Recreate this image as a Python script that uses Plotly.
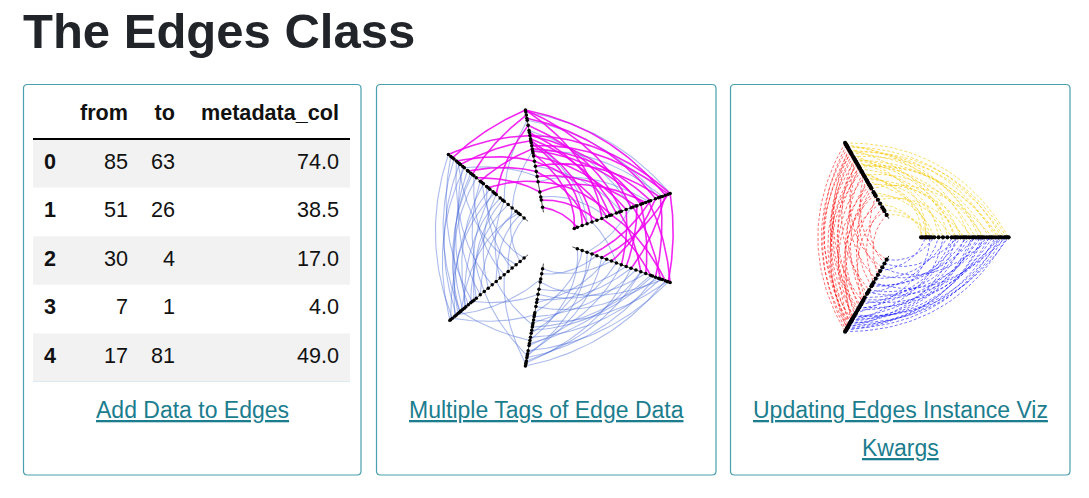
import numpy as np
import plotly.graph_objects as go

W, H = 1089, 498
OFF = 8  # page body margin of the browser
FW, FH = W - OFF, H - OFF

# ---------------- data ----------------
TITLE = "The Edges Class"
TABLE_HEADER = ["", "from", "to", "metadata_col"]
ROW_INDEX = [0, 1, 2, 3, 4]
COL_FROM = [85, 51, 30, 7, 17]
COL_TO = [63, 26, 4, 1, 81]
COL_META = [74.0, 38.5, 17.0, 4.0, 49.0]
LINK_1 = "Add Data to Edges"
LINK_2 = "Multiple Tags of Edge Data"
LINK_3 = ["Updating Edges Instance Viz", "Kwargs"]

# hive plot 1 (three groups, each with a repeat axis)
H1_AXIS_ANGLES = {"A": 100, "B": 140, "C": 20, "D": -20, "E": 220, "F": 260}

mag_AC_a = [1.0, 1.0, 1.0, 0.92, 0.75, 0.75, 0.72, 0.70, 0.68, 0.62, 0.55, 0.5, 0.45, 0.4, 0.35, 0.3, 0.2, 0.12, 0.05, 0.85, 0.65, 0.58, 0.78, 0.6]
mag_AC_c = [0.95, 0.6, 0.3, 0.85, 1.0, 0.7, 0.45, 0.2, 0.1, 0.8, 0.55, 0.35, 0.9, 0.15, 0.65, 0.4, 0.75, 0.25, 0.05, 0.5, 0.98, 0.02, 0.38, 0.72]
blue_AC_a = [0.98, 0.9, 0.8, 0.6, 0.45, 0.3, 0.15, 0.7]
blue_AC_c = [1.0, 0.88, 0.6, 0.92, 0.5, 0.78, 0.35, 0.15]

mag_CD_c = [1.0, 0.95, 0.9, 0.85, 0.78, 0.7, 0.62, 0.55, 0.48, 0.4, 0.98, 0.8, 0.66, 0.3]
mag_CD_d = [0.98, 0.6, 0.85, 0.4, 1.0, 0.75, 0.9, 0.5, 0.7, 0.95, 0.3, 0.2, 0.55, 0.8]
blue_CD_c = [0.6, 0.2]
blue_CD_d = [0.15, 0.45]

mag_AB_a = [1.0, 0.95, 0.75, 0.7, 0.62, 0.5, 0.4, 0.3, 0.85, 0.2]
mag_AB_b = [0.95, 0.7, 1.0, 0.85, 0.6, 0.9, 0.75, 0.5, 0.4, 0.65]
blue_AB_a = [0.9, 0.6, 0.35]
blue_AB_b = [0.3, 0.2, 0.8]

blue_BE_b = [1.0, 0.97, 0.93, 0.9, 0.86, 0.82, 0.8, 0.76, 0.72, 0.68, 0.65, 0.6, 0.56, 0.52, 0.48, 0.44, 0.4, 0.35, 0.3, 0.25, 0.2, 0.15, 0.1, 0.05, 0.88, 0.7, 0.58, 0.42, 0.32, 0.12]
blue_BE_e = [0.95, 0.7, 0.85, 0.45, 0.9, 0.6, 0.98, 0.75, 0.82, 0.3, 0.88, 0.55, 0.78, 0.2, 0.92, 0.65, 0.5, 0.8, 0.35, 0.72, 0.1, 0.6, 0.4, 0.25, 0.15, 0.86, 0.05, 0.97, 0.68, 0.84]

blue_EF_e = [0.95, 0.85, 0.7, 0.55, 0.4, 0.9, 0.3]
blue_EF_f = [0.5, 0.75, 0.3, 0.9, 0.6, 0.15, 0.98]

blue_FD_f = [1.0, 0.97, 0.92, 0.88, 0.85, 0.8, 0.78, 0.72, 0.68, 0.62, 0.58, 0.52, 0.48, 0.42, 0.38, 0.3, 0.25, 0.18, 0.1, 0.05, 0.9, 0.75, 0.55, 0.35, 0.95, 0.65]
blue_FD_d = [0.95, 0.6, 0.85, 0.3, 0.98, 0.5, 0.7, 0.9, 0.2, 0.8, 0.45, 0.65, 0.1, 0.88, 0.35, 0.75, 0.55, 0.92, 0.25, 0.4, 0.15, 0.05, 0.97, 0.6, 0.7, 0.82]

# hive plot 2 (three axes)
H2_AXIS_ANGLES = {"P": 120, "Q": 0, "R": 240}

yellow_p = [1.0, 0.98, 0.95, 0.92, 0.9, 0.87, 0.85, 0.82, 0.8, 0.77, 0.75, 0.72, 0.7, 0.66, 0.62, 0.58, 0.55, 0.5, 0.45, 0.4, 0.35, 0.3, 0.25, 0.2, 0.12, 0.05, 0.96, 0.88, 0.78, 0.68, 0.6, 0.52]
yellow_q = [1.0, 0.55, 0.92, 0.3, 0.85, 0.7, 0.05, 0.95, 0.45, 0.78, 0.2, 0.62, 0.88, 0.4, 0.0, 0.72, 0.25, 0.1, 0.58, 0.82, 0.15, 0.35, 0.5, 0.02, 0.08, 0.12, 0.66, 0.98, 0.38, 0.9, 0.06, 0.48]

red_p = [1.0, 0.97, 0.94, 0.92, 0.9, 0.87, 0.85, 0.82, 0.8, 0.77, 0.74, 0.72, 0.7, 0.66, 0.63, 0.6, 0.56, 0.52, 0.48, 0.44, 0.4, 0.35, 0.3, 0.25, 0.2, 0.15, 0.1, 0.05, 0.88, 0.78, 0.68, 0.58, 0.42, 0.32]
red_r = [1.0, 0.85, 0.95, 0.6, 0.9, 0.98, 0.7, 0.8, 0.45, 0.92, 0.65, 0.88, 0.3, 0.75, 0.96, 0.5, 0.82, 0.2, 0.68, 0.9, 0.4, 0.78, 0.1, 0.55, 0.86, 0.35, 0.62, 0.25, 0.72, 0.15, 0.94, 0.05, 0.58, 0.84]

blue_r = [1.0, 0.98, 0.96, 0.94, 0.92, 0.9, 0.88, 0.86, 0.84, 0.82, 0.8, 0.76, 0.72, 0.68, 0.64, 0.6, 0.55, 0.5, 0.45, 0.4, 0.35, 0.3, 0.25, 0.2, 0.15, 0.1, 0.05, 0.95, 0.87, 0.78, 0.7, 0.58, 0.48, 0.38]
blue_q = [0.98, 0.7, 0.9, 0.4, 0.85, 0.6, 0.95, 0.25, 0.78, 0.5, 0.92, 0.1, 0.65, 0.82, 0.35, 0.88, 0.55, 0.2, 0.75, 0.45, 0.97, 0.3, 0.62, 0.05, 0.8, 0.42, 0.15, 0.72, 0.58, 1.0, 0.38, 0.68, 0.9, 0.52]

# ---------------- style ----------------
FONT = "Liberation Sans, Arial, sans-serif"
TITLE_COLOR = "#212529"
LINK_COLOR = "#1b7d8e"
CARD_BORDER = "#4a9fae"
TEXT_COLOR = "#111111"
TABLE_FONT_SIZE = 21.6

H1_R0, H1_R1 = 26, 130
H2_R0, H2_R1 = 21.5, 109
H1_CENTER = (548, 238)
H2_CENTER = (899.6, 237.3)


def polar(deg, r):
    t = np.radians(deg)
    return r * np.cos(t), r * np.sin(t)


def curve(a1, t1, a2, t2, r0, r1, n=36):
    ra = r0 + t1 * (r1 - r0)
    rb = r0 + t2 * (r1 - r0)
    d = ((a2 - a1 + 180) % 360) - 180
    am = a1 + d / 2
    p0 = np.array(polar(a1, ra))
    p2 = np.array(polar(a2, rb))
    c = np.array(polar(am, (ra + rb) / 2))
    s = np.linspace(0, 1, n)[:, None]
    pts = (1 - s) ** 2 * p0 + 2 * (1 - s) * s * c + s ** 2 * p2
    return pts[:, 0], pts[:, 1]


def edge_trace(specs, angles, r0, r1, color, width, dash, xa, ya, nodes):
    xs, ys = [], []
    for (ax1, l1, ax2, l2) in specs:
        for t1, t2 in zip(l1, l2):
            cx, cy = curve(angles[ax1], t1, angles[ax2], t2, r0, r1)
            xs += list(cx) + [None]
            ys += list(cy) + [None]
            nodes.setdefault(ax1, set()).add(t1)
            nodes.setdefault(ax2, set()).add(t2)
    return go.Scatter(x=xs, y=ys, mode="lines", xaxis=xa, yaxis=ya,
                      line=dict(color=color, width=width, dash=dash),
                      hoverinfo="skip", showlegend=False)


def axes_and_nodes(angles, nodes, r0, r1, xa, ya, lw, ms):
    traces = []
    lx, ly = [], []
    nx, ny = [], []
    for name, ang in angles.items():
        x0, y0 = polar(ang, r0)
        x1, y1 = polar(ang, r1)
        lx += [x0, x1, None]
        ly += [y0, y1, None]
        for t in sorted(nodes.get(name, [])):
            px, py = polar(ang, r0 + t * (r1 - r0))
            nx.append(px)
            ny.append(py)
    traces.append(go.Scatter(x=lx, y=ly, mode="lines", xaxis=xa, yaxis=ya,
                             line=dict(color="black", width=lw), hoverinfo="skip", showlegend=False))
    traces.append(go.Scatter(x=nx, y=ny, mode="markers", xaxis=xa, yaxis=ya,
                             marker=dict(color="black", size=ms, line=dict(width=0)),
                             hoverinfo="skip", showlegend=False))
    return traces


fig = go.Figure()

# ---------- hive plot 1 ----------
n1 = {}
blue1 = "rgba(70,105,215,0.45)"
mag1 = "rgba(240,0,240,0.85)"
fig.add_trace(edge_trace(
    [("A", blue_AC_a, "C", blue_AC_c), ("C", blue_CD_c, "D", blue_CD_d), ("A", blue_AB_a, "B", blue_AB_b),
     ("B", blue_BE_b, "E", blue_BE_e), ("E", blue_EF_e, "F", blue_EF_f), ("F", blue_FD_f, "D", blue_FD_d)],
    H1_AXIS_ANGLES, H1_R0, H1_R1, blue1, 1.1, "solid", "x2", "y2", n1))
fig.add_trace(edge_trace(
    [("A", mag_AC_a, "C", mag_AC_c), ("C", mag_CD_c, "D", mag_CD_d), ("A", mag_AB_a, "B", mag_AB_b)],
    H1_AXIS_ANGLES, H1_R0, H1_R1, mag1, 1.6, "solid", "x2", "y2", n1))
for tr in axes_and_nodes(H1_AXIS_ANGLES, n1, H1_R0, H1_R1, "x2", "y2", 0.7, 3.5):
    fig.add_trace(tr)

# ---------- hive plot 2 ----------
n2 = {}
fig.add_trace(edge_trace([("P", yellow_p, "Q", yellow_q)], H2_AXIS_ANGLES, H2_R0, H2_R1,
                         "rgba(245,200,0,0.75)", 0.8, "3px,2px", "x3", "y3", n2))
fig.add_trace(edge_trace([("P", red_p, "R", red_r)], H2_AXIS_ANGLES, H2_R0, H2_R1,
                         "rgba(255,0,0,0.7)", 0.8, "3px,2px", "x3", "y3", n2))
fig.add_trace(edge_trace([("R", blue_r, "Q", blue_q)], H2_AXIS_ANGLES, H2_R0, H2_R1,
                         "rgba(0,0,255,0.7)", 0.8, "3px,2px", "x3", "y3", n2))
for tr in axes_and_nodes(H2_AXIS_ANGLES, n2, H2_R0, H2_R1, "x3", "y3", 0.9, 4.2):
    fig.add_trace(tr)

# ---------- table (rows on y4, page-pixel columns on x) ----------
rows_y = [-1] + ROW_INDEX
col_values = [
    ["<b>%s</b>" % TABLE_HEADER[0]] + ["<b>%d</b>" % i for i in ROW_INDEX],
    ["<b>%s</b>" % TABLE_HEADER[1]] + [str(v) for v in COL_FROM],
    ["<b>%s</b>" % TABLE_HEADER[2]] + [str(v) for v in COL_TO],
    ["<b>%s</b>" % TABLE_HEADER[3]] + ["%.1f" % v for v in COL_META],
]
col_anchor = [44, 128, 175, 339]
col_pos = ["middle right", "middle left", "middle left", "middle left"]
for vals, xa_, pos in zip(col_values, col_anchor, col_pos):
    fig.add_trace(go.Scatter(x=[xa_] * len(rows_y), y=rows_y, text=vals, mode="text",
                             textposition=pos, xaxis="x", yaxis="y4",
                             textfont=dict(family=FONT, size=TABLE_FONT_SIZE, color=TEXT_COLOR),
                             hoverinfo="skip", showlegend=False))

shapes = []
TX0, TX1 = 33, 350
for i in ROW_INDEX:
    if i % 2 == 0:
        shapes.append(dict(type="rect", xref="x", yref="y4", x0=TX0, x1=TX1, y0=i - 0.5, y1=i + 0.5,
                           fillcolor="#f2f2f2", line=dict(width=0), layer="below"))
shapes.append(dict(type="line", xref="x", yref="y4", x0=TX0, x1=TX1, y0=-0.5, y1=-0.5,
                   line=dict(color="black", width=2)))
shapes.append(dict(type="line", xref="x", yref="y4", x0=TX0, x1=TX1, y0=4.5, y1=4.5,
                   line=dict(color="#d7e7f0", width=1.5)))


def rounded(x0, y0, x1, y1, r):
    return (f"M {x0 + r},{y0} L {x1 - r},{y0} Q {x1},{y0} {x1},{y0 + r} L {x1},{y1 - r} "
            f"Q {x1},{y1} {x1 - r},{y1} L {x0 + r},{y1} Q {x0},{y1} {x0},{y1 - r} "
            f"L {x0},{y0 + r} Q {x0},{y0} {x0 + r},{y0} Z")


for (cx0, cx1) in [(23.5, 361), (376.5, 716), (730.5, 1070)]:
    shapes.append(dict(type="path", xref="x", yref="y", path=rounded(cx0, 84.5, cx1, 475, 4),
                       line=dict(color=CARD_BORDER, width=1.2)))

annotations = [
    dict(text="<b>%s</b>" % TITLE, x=21, y=31, xref="x", yref="y", xanchor="left", yanchor="middle",
         showarrow=False, font=dict(family=FONT, size=49, color=TITLE_COLOR)),
    dict(text="<u>%s</u>" % LINK_1, x=192, y=410, xref="x", yref="y", xanchor="center", yanchor="middle",
         showarrow=False, font=dict(family=FONT, size=23, color=LINK_COLOR)),
    dict(text="<u>%s</u>" % LINK_2, x=546, y=410, xref="x", yref="y", xanchor="center", yanchor="middle",
         showarrow=False, font=dict(family=FONT, size=23, color=LINK_COLOR)),
    dict(text="<u>%s</u>" % LINK_3[0], x=900, y=410, xref="x", yref="y", xanchor="center", yanchor="middle",
         showarrow=False, font=dict(family=FONT, size=23, color=LINK_COLOR)),
    dict(text="<u>%s</u>" % LINK_3[1], x=900, y=448, xref="x", yref="y", xanchor="center", yanchor="middle",
         showarrow=False, font=dict(family=FONT, size=23, color=LINK_COLOR)),
]


def xdom(a, b):
    return [(a - OFF) / FW, (b - OFF) / FW]


def ydom(top, bottom):
    return [1 - (bottom - OFF) / FH, 1 - (top - OFF) / FH]


hid = dict(visible=False, showgrid=False, zeroline=False, fixedrange=True)
h1 = 150
h2 = 125
fig.update_layout(
    width=FW, height=FH, margin=dict(l=0, r=0, t=0, b=0),
    paper_bgcolor="white", plot_bgcolor="rgba(0,0,0,0)",
    hovermode=False, showlegend=False,
    xaxis=dict(domain=[0, 1], range=[OFF, W], **hid),
    yaxis=dict(domain=[0, 1], range=[H, OFF], **hid),
    xaxis2=dict(domain=xdom(H1_CENTER[0] - h1, H1_CENTER[0] + h1), range=[-h1, h1], anchor="y2", **hid),
    yaxis2=dict(domain=ydom(H1_CENTER[1] - h1, H1_CENTER[1] + h1), range=[-h1, h1], anchor="x2", **hid),
    xaxis3=dict(domain=xdom(H2_CENTER[0] - h2, H2_CENTER[0] + h2), range=[-h2, h2], anchor="y3", **hid),
    yaxis3=dict(domain=ydom(H2_CENTER[1] - h2, H2_CENTER[1] + h2), range=[-h2, h2], anchor="x3", **hid),
    yaxis4=dict(domain=ydom(90.4, 382), range=[4.5, -1.5], anchor="x", **hid),
    shapes=shapes, annotations=annotations,
)

fig.write_html("out.html")
